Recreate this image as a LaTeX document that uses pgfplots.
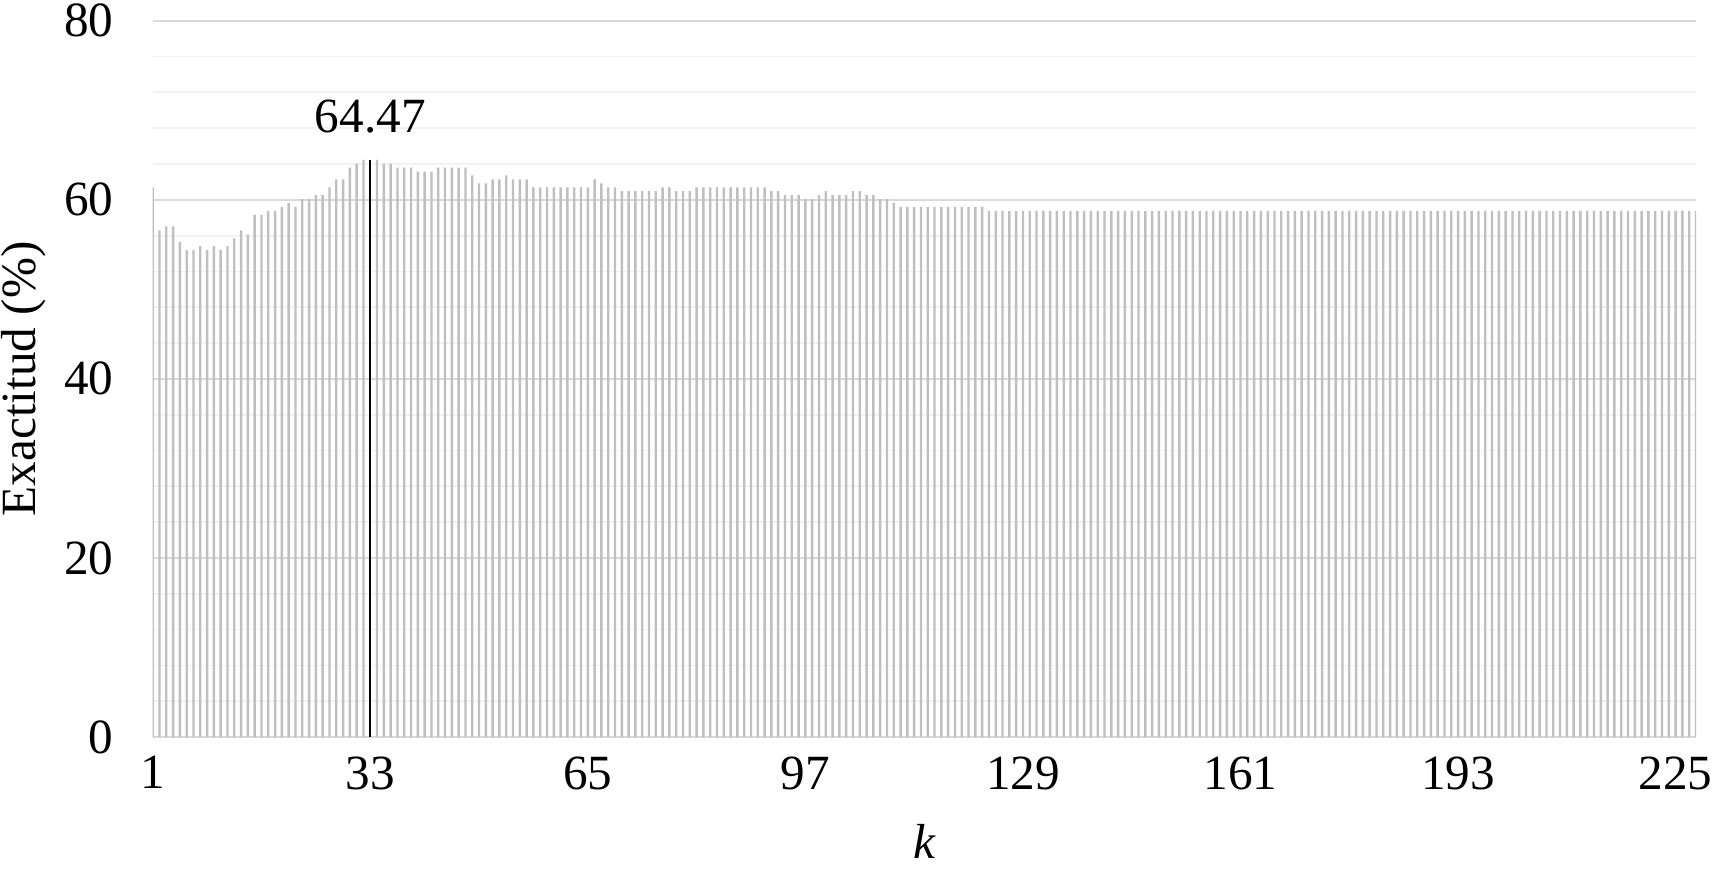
\documentclass[border=0pt]{standalone}
\usepackage{fontspec}
\setmainfont{Liberation Serif}
\usepackage{pgfplots}
\pgfplotsset{compat=1.18}
\definecolor{barGray}{RGB}{191,191,191}
\definecolor{gridMajor}{RGB}{217,217,217}
\definecolor{gridMinor}{RGB}{242,242,242}

\begin{document}
\begin{tikzpicture}
\begin{axis}[
  name=ax,
  scale only axis,
  width=15.433cm, height=7.163cm,
  xmin=1, xmax=228, ymin=0, ymax=80,
  xtick={1,33,...,225},
  ytick={0,20,...,80},
  minor y tick num=4,
  ymajorgrids, yminorgrids,
  major grid style={gridMajor, line width=0.66pt},
  minor grid style={gridMinor, line width=0.5pt},
  axis line style={draw=none},
  major tick length=0pt, minor tick length=0pt,
  tick label style={font=\fontsize{14}{17}\selectfont},
  /pgf/number format/assume math mode=true,
  xticklabel style={yshift=-2pt},
  yticklabel style={xshift=-7.7pt},
  xlabel={\textit{k}},
  ylabel={Exactitud (\%)},
  label style={font=\fontsize{14}{17}\selectfont},
  xlabel style={at={(axis description cs:0.5,-0.146)}, anchor=center, inner sep=1pt},
  ylabel style={at={(axis description cs:-0.0834,0.5)}, anchor=center},
]
% exactitud por k (paso de 1/228)
\addplot[ybar, bar width=0.35, bar shift=0pt, fill=barGray, draw=none] coordinates {
  (1,61.40) (2,56.58) (3,57.02) (4,57.02) (5,55.26) (6,54.39) (7,54.39) (8,54.82)
  (9,54.39) (10,54.82) (11,54.39) (12,54.82) (13,55.70) (14,56.58) (15,56.14) (16,58.33)
  (17,58.33) (18,58.77) (19,58.77) (20,59.21) (21,59.65) (22,59.21) (23,60.09) (24,60.09)
  (25,60.53) (26,60.53) (27,61.40) (28,62.28) (29,62.28) (30,63.60) (31,64.04) (32,64.47)
  (34,64.47) (35,64.04) (36,64.04) (37,63.60) (38,63.60) (39,63.60) (40,63.16)
  (41,63.16) (42,63.16) (43,63.60) (44,63.60) (45,63.60) (46,63.60) (47,63.60) (48,62.72)
  (49,61.84) (50,61.84) (51,62.28) (52,62.28) (53,62.72) (54,62.28) (55,62.28) (56,62.28)
  (57,61.40) (58,61.40) (59,61.40) (60,61.40) (61,61.40) (62,61.40) (63,61.40) (64,61.40)
  (65,61.40) (66,62.28) (67,61.84) (68,61.40) (69,61.40) (70,60.96) (71,60.96) (72,60.96)
  (73,60.96) (74,60.96) (75,60.96) (76,61.40) (77,61.40) (78,60.96) (79,60.96) (80,60.96)
  (81,61.40) (82,61.40) (83,61.40) (84,61.40) (85,61.40) (86,61.40) (87,61.40) (88,61.40)
  (89,61.40) (90,61.40) (91,61.40) (92,60.96) (93,60.96) (94,60.53) (95,60.53) (96,60.53)
  (97,60.09) (98,60.09) (99,60.53) (100,60.96) (101,60.53) (102,60.53) (103,60.53) (104,60.96)
  (105,60.96) (106,60.53) (107,60.53) (108,60.09) (109,60.09) (110,59.65) (111,59.21) (112,59.21)
  (113,59.21) (114,59.21) (115,59.21) (116,59.21) (117,59.21) (118,59.21) (119,59.21) (120,59.21)
  (121,59.21) (122,59.21) (123,59.21) (124,58.77) (125,58.77) (126,58.77) (127,58.77) (128,58.77)
  (129,58.77) (130,58.77) (131,58.77) (132,58.77) (133,58.77) (134,58.77) (135,58.77) (136,58.77)
  (137,58.77) (138,58.77) (139,58.77) (140,58.77) (141,58.77) (142,58.77) (143,58.77) (144,58.77)
  (145,58.77) (146,58.77) (147,58.77) (148,58.77) (149,58.77) (150,58.77) (151,58.77) (152,58.77)
  (153,58.77) (154,58.77) (155,58.77) (156,58.77) (157,58.77) (158,58.77) (159,58.77) (160,58.77)
  (161,58.77) (162,58.77) (163,58.77) (164,58.77) (165,58.77) (166,58.77) (167,58.77) (168,58.77)
  (169,58.77) (170,58.77) (171,58.77) (172,58.77) (173,58.77) (174,58.77) (175,58.77) (176,58.77)
  (177,58.77) (178,58.77) (179,58.77) (180,58.77) (181,58.77) (182,58.77) (183,58.77) (184,58.77)
  (185,58.77) (186,58.77) (187,58.77) (188,58.77) (189,58.77) (190,58.77) (191,58.77) (192,58.77)
  (193,58.77) (194,58.77) (195,58.77) (196,58.77) (197,58.77) (198,58.77) (199,58.77) (200,58.77)
  (201,58.77) (202,58.77) (203,58.77) (204,58.77) (205,58.77) (206,58.77) (207,58.77) (208,58.77)
  (209,58.77) (210,58.77) (211,58.77) (212,58.77) (213,58.77) (214,58.77) (215,58.77) (216,58.77)
  (217,58.77) (218,58.77) (219,58.77) (220,58.77) (221,58.77) (222,58.77) (223,58.77) (224,58.77)
  (225,58.77) (226,58.77) (227,58.77) (228,58.77)
};
% mejor k
\addplot[ybar, bar width=0.35, bar shift=0pt, fill=black, draw=none,
  nodes near coords, point meta=explicit symbolic,
  every node near coord/.append style={font=\fontsize{14}{17}\selectfont, yshift=3.9pt}]
  coordinates {(33,64.47) [64.47]};
\end{axis}
\pgfresetboundingbox
\path ([shift={(-1.527cm,-1.31cm)}]ax.south west) rectangle ([shift={(15.593cm,7.37cm)}]ax.south west);
\end{tikzpicture}
\end{document}
